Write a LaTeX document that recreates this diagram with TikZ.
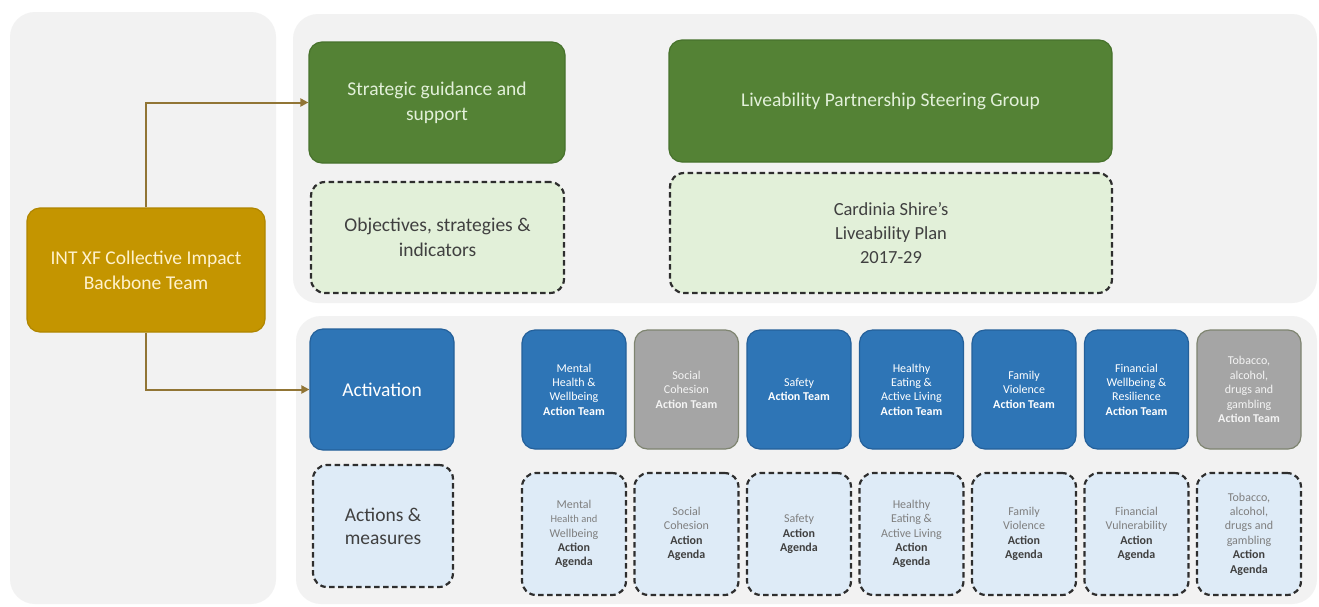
\documentclass[tikz,border=0pt]{standalone}
\usepackage{fontspec}
\setmainfont{Carlito}
\usetikzlibrary{arrows.meta}
\definecolor{panelgray}{HTML}{F2F2F2}
\definecolor{dgreen}{HTML}{548235}
\definecolor{dgreenb}{HTML}{47722C}
\definecolor{greentext}{HTML}{E2F0D9}
\definecolor{gold}{HTML}{C49500}
\definecolor{goldb}{HTML}{B08600}
\definecolor{goldtext}{HTML}{FFF2CC}
\definecolor{tblue}{HTML}{2E75B6}
\definecolor{tblueb}{HTML}{24609A}
\definecolor{tgray}{HTML}{A5A5A5}
\definecolor{tgrayb}{HTML}{7E8470}
\definecolor{lgreen}{HTML}{E2F0D9}
\definecolor{lblue}{HTML}{DEEBF7}
\definecolor{dashc}{HTML}{2E2E2E}
\definecolor{conncol}{HTML}{917535}
\definecolor{darktext}{HTML}{404040}
\definecolor{midtext}{HTML}{7F7F7F}
\tikzset{
  panel/.style={fill=panelgray, draw=none},
  bigfont/.style={font=\fontsize{19.5}{25}\selectfont},
  smallfont/.style={font=\fontsize{12}{14.4}\selectfont},
  greenbox/.style={fill=dgreen, draw=dgreenb, line width=1.2pt, rounded corners=13pt,
    text=greentext, align=center, inner sep=0pt, bigfont},
  goldbox/.style={fill=gold, draw=goldb, line width=1.2pt, rounded corners=13pt,
    text=goldtext, align=center, inner sep=0pt, bigfont},
  bluebox/.style={fill=tblue, draw=tblueb, line width=1.2pt, rounded corners=13pt,
    text=white, align=center, inner sep=0pt},
  graybox/.style={fill=tgray, draw=tgrayb, line width=1.2pt, rounded corners=13pt,
    text=white!88!tgray, align=center, inner sep=0pt},
  dashbox/.style={draw=dashc, line width=2.2pt, dash pattern=on 5.5pt off 3.5pt,
    rounded corners=14pt, align=center, inner sep=0pt},
  greendash/.style={dashbox, fill=lgreen, text=darktext, bigfont},
  bluedash/.style={dashbox, fill=lblue, text=midtext, smallfont},
  team/.style={minimum width=104pt, minimum height=119pt, smallfont},
  agenda/.style={bluedash, minimum width=104pt, minimum height=122pt},
  conn/.style={draw=conncol, line width=2pt, -{Triangle[length=8pt,width=8pt]}},
}
\newcommand{\ATeam}{\textbf{Action Team}}
\newcommand{\AAgenda}{\textcolor{darktext}{\textbf{Action}}\\\textcolor{darktext}{\textbf{Agenda}}}
\begin{document}
\begin{tikzpicture}[x=1pt,y=-1pt]
\useasboundingbox[fill=white] (0,0) rectangle (1319,606);
% panels
\fill[panel, rounded corners=25pt] (10,12) rectangle (276,604);
\fill[panel, rounded corners=25pt] (293,14) rectangle (1317,303);
\fill[panel, rounded corners=25pt] (296,316) rectangle (1317,604);
% top section
\node[greenbox, minimum width=256pt, minimum height=121pt] (sg) at (437,102.5) {Strategic guidance and\\support};
\node[greendash, minimum width=253pt, minimum height=111pt] (obj) at (437.5,237.5) {Objectives, strategies \&\\indicators};
\node[greenbox, minimum width=443pt, minimum height=122pt] (lpsg) at (890.5,101) {Liveability Partnership Steering Group};
\node[greendash, minimum width=442pt, minimum height=120pt, font=\fontsize{18.5}{24}\selectfont] (plan) at (891,233) {Cardinia Shire's\\Liveability Plan\\2017-29};
% backbone
\node[goldbox, minimum width=238pt, minimum height=124pt] (bb) at (146,270) {INT XF Collective Impact\\Backbone Team};
% bottom section
\node[bluebox, bigfont, minimum width=144pt, minimum height=121pt] (act) at (382,389.5) {Activation};
\node[dashbox, fill=lblue, text=darktext, minimum width=140pt, minimum height=122pt, font=\fontsize{19.5}{23}\selectfont] (am) at (383,526) {Actions \&\\measures};
% action teams
\node[bluebox, team] (t1) at (574,389.5) {Mental\\Health \&\\Wellbeing\\\ATeam};
\node[graybox, team] (t2) at (686.5,389.5) {Social\\Cohesion\\\ATeam};
\node[bluebox, team] (t3) at (799,389.5) {Safety\\\ATeam};
\node[bluebox, team] (t4) at (911.5,389.5) {Healthy\\Eating \&\\Active Living\\\ATeam};
\node[bluebox, team] (t5) at (1024,389.5) {Family\\Violence\\\ATeam};
\node[bluebox, team] (t6) at (1136.5,389.5) {Financial\\Wellbeing \&\\Resilience\\\ATeam};
\node[graybox, team] (t7) at (1249,389.5) {Tobacco,\\alcohol,\\drugs and\\gambling\\\ATeam};
% action agendas
\node[agenda] (a1) at (574,534) {Mental\\{\fontsize{10.5}{14.4}\selectfont Health and}\\Wellbeing\\\AAgenda};
\node[agenda] (a2) at (686.5,534) {Social\\Cohesion\\\AAgenda};
\node[agenda] (a3) at (799,534) {Safety\\\AAgenda};
\node[agenda] (a4) at (911.5,534) {Healthy\\Eating \&\\Active Living\\\AAgenda};
\node[agenda] (a5) at (1024,534) {Family\\Violence\\\AAgenda};
\node[agenda] (a6) at (1136.5,534) {Financial\\Vulnerability\\\AAgenda};
\node[agenda] (a7) at (1249,534) {Tobacco,\\alcohol,\\drugs and\\gambling\\\AAgenda};
% connectors
\draw[conn] (bb.north) -- (bb.north |- sg.west) -- (sg.west);
\draw[conn] (bb.south) |- (act.west);
\end{tikzpicture}
\end{document}
